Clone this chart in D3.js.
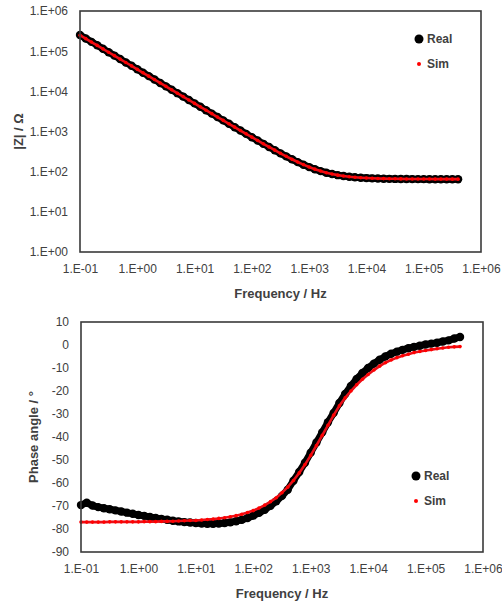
<!DOCTYPE html>
<html>
<head>
<meta charset="utf-8">
<script src="https://cdn.jsdelivr.net/npm/d3@7"></script>
<style>
  body { margin: 0; background: #fff; }
  svg text { font-family: 'Liberation Sans', Arial, sans-serif; fill: #404040; }
</style>
</head>
<body>
<svg id="chart" width="502" height="603"></svg>
<script>
// EIS data, 10 points per decade, 0.1 Hz .. ~400 kHz
const freq = [
  0.1, 0.1259, 0.1585, 0.1995, 0.2512, 0.3162, 0.3981, 0.5012, 0.631, 0.7943,
  1, 1.259, 1.585, 1.995, 2.512, 3.162, 3.981, 5.012, 6.31, 7.943,
  10, 12.59, 15.85, 19.95, 25.12, 31.62, 39.81, 50.12, 63.1, 79.43,
  100, 125.9, 158.5, 199.5, 251.2, 316.2, 398.1, 501.2, 631, 794.3,
  1000, 1259, 1585, 1995, 2512, 3162, 3981, 5012, 6310, 7943,
  10000, 12589, 15849, 19953, 25119, 31623, 39811, 50119, 63096, 79433,
  100000, 125893, 158489, 199526, 251189, 316228, 398107
];
const realZ = [
  252000, 207000, 170500, 139800, 115000, 94300, 77600, 63800, 52400, 43200,
  35400, 29100, 23950, 19700, 16180, 13300, 10940, 9000, 7400, 6090,
  5010, 4120, 3390, 2790, 2296, 1890, 1556, 1281, 1055, 872,
  720, 595, 493, 410, 341, 285, 240, 203, 173, 149,
  130, 115, 103.2, 94.1, 87.2, 81.8, 77.8, 74.8, 72.4, 70.6,
  69.2, 68.2, 67.4, 66.8, 66.3, 66.0, 65.7, 65.5, 65.3, 65.2,
  65.1, 65.0, 64.9, 64.8, 64.7, 64.6, 64.5
];
const simZ = [
  250000, 205600, 169000, 139000, 114300, 94000, 77300, 63500, 52200, 43000,
  35300, 29000, 23900, 19650, 16150, 13290, 10920, 8985, 7395, 6085,
  5005, 4115, 3388, 2788, 2295, 1890, 1557, 1283, 1057, 874,
  722.5, 597, 495, 412, 343, 287, 241, 204, 174, 150,
  130.5, 115.4, 103.5, 94.3, 87.3, 81.9, 77.9, 74.9, 72.6, 70.8,
  69.5, 68.5, 67.8, 67.2, 66.7, 66.4, 66.1, 65.9, 65.7, 65.6,
  65.5, 65.4, 65.35, 65.3, 65.25, 65.2, 65.15
];
const realPhase = [
  -69.6, -68.6, -69.8, -70.5, -71.0, -71.4, -71.9, -72.4, -72.9, -73.4,
  -73.9, -74.3, -74.8, -75.2, -75.6, -76.0, -76.4, -76.7, -77.0, -77.2,
  -77.4, -77.6, -77.7, -77.7, -77.6, -77.4, -77.1, -76.6, -76.0, -75.2,
  -74.2, -73.0, -71.6, -69.9, -67.9, -65.6, -62.9, -59.0, -55.2, -51.2,
  -46.8, -42.4, -38.0, -33.6, -29.5, -25.2, -21.3, -17.8, -14.8, -12.2,
  -10.0, -8.1, -6.4, -5.0, -3.8, -2.9, -2.1, -1.4, -0.8, -0.3,
  0.2, 0.6, 1.0, 1.5, 2.0, 2.8, 3.5
];
const simPhase = [
  -77.0, -77.0, -77.0, -77.0, -77.0, -76.9, -76.9, -76.9, -76.9, -76.9,
  -76.9, -76.8, -76.8, -76.8, -76.7, -76.7, -76.6, -76.5, -76.4, -76.3,
  -76.3, -76.1, -75.9, -75.7, -75.4, -75.1, -74.7, -74.2, -73.6, -72.8,
  -72.0, -70.9, -69.6, -68.1, -66.4, -64.2, -61.8, -58.9, -55.6, -52.0,
  -48.0, -43.7, -39.3, -34.9, -30.5, -26.4, -23.0, -20.0, -17.3, -14.9,
  -12.8, -10.9, -9.2, -7.7, -6.5, -5.5, -4.7, -4.0, -3.3, -2.8,
  -2.4, -2.0, -1.6, -1.3, -1.0, -0.8, -0.7
];
const freqTicks = [0.1, 1, 10, 100, 1e3, 1e4, 1e5, 1e6];
const zTicks = [1, 10, 100, 1e3, 1e4, 1e5, 1e6];
const phaseTicks = [-90, -80, -70, -60, -50, -40, -30, -20, -10, 0, 10];
const seriesNames = ['Real', 'Sim'];

const svg = d3.select('#chart');

// Excel style label: 1.E+03
function sci(d) {
  const e = Math.round(Math.log10(d));
  return '1.E' + (e < 0 ? '-' : '+') + String(Math.abs(e)).padStart(2, '0');
}

function drawPanel(opt) {
  const x = d3.scaleLog().domain([0.1, 1e6]).range([opt.left, opt.right]);
  const y = opt.y;
  const g = svg.append('g');

  g.append('g')
      .attr('transform', 'translate(0,' + opt.bottom + ')')
      .call(d3.axisBottom(x).tickValues(freqTicks).tickFormat(sci).tickSize(0).tickPadding(12))
      .call((a) => a.select('.domain').remove())
      .selectAll('text')
      .style('font-size', '12px');

  g.append('g')
      .attr('transform', 'translate(' + opt.left + ',0)')
      .call(d3.axisLeft(y).tickValues(opt.ticks).tickFormat(opt.format).tickSize(0).tickPadding(12))
      .call((a) => a.select('.domain').remove())
      .selectAll('text')
      .style('font-size', '12px');

  g.selectAll('.tick text').attr('fill', '#404040');

  const pts = (vals) => freq.map((f, i) => [x(f), y(vals[i])]);
  const line = d3.line();

  // Real: big black markers
  g.append('path')
      .attr('d', line(pts(opt.real)))
      .attr('fill', 'none')
      .attr('stroke', '#000')
      .attr('stroke-width', 7)
      .attr('stroke-linejoin', 'round');
  g.append('g').selectAll('circle')
      .data(pts(opt.real))
      .enter()
      .append('circle')
      .attr('cx', (d) => d[0])
      .attr('cy', (d) => d[1])
      .attr('r', 4.2)
      .attr('fill', '#000');

  // Sim: small red markers
  g.append('path')
      .attr('d', line(pts(opt.sim)))
      .attr('fill', 'none')
      .attr('stroke', '#e8101a')
      .attr('stroke-width', 2.6);
  g.append('g').selectAll('circle')
      .data(pts(opt.sim))
      .enter()
      .append('circle')
      .attr('cx', (d) => d[0])
      .attr('cy', (d) => d[1])
      .attr('r', 1.8)
      .attr('fill', '#ff0000');

  g.append('rect')
      .attr('x', opt.left)
      .attr('y', opt.top)
      .attr('width', opt.right - opt.left)
      .attr('height', opt.bottom - opt.top)
      .attr('fill', 'none')
      .attr('stroke', '#3a3a3a')
      .attr('stroke-width', 1.6);

  g.append('text')
      .attr('x', (opt.left + opt.right) / 2)
      .attr('y', opt.bottom + 41)
      .attr('dy', '0.35em')
      .attr('text-anchor', 'middle')
      .style('font-size', '13px')
      .style('font-weight', 'bold')
      .text('Frequency / Hz');

  g.append('text')
      .attr('transform', 'translate(' + opt.yTitleX + ',' + (opt.top + opt.bottom) / 2 + ') rotate(-90)')
      .attr('dy', '0.35em')
      .attr('text-anchor', 'middle')
      .style('font-size', '13px')
      .style('font-weight', 'bold')
      .text(opt.yTitle);

  // legend
  const lg = g.append('g').attr('transform', 'translate(' + opt.legend[0] + ',' + opt.legend[1] + ')');
  seriesNames.forEach((name, i) => {
    lg.append('circle')
        .attr('cx', 0)
        .attr('cy', i * 25)
        .attr('r', i === 0 ? 4.5 : 2)
        .attr('fill', i === 0 ? '#000' : '#ff0000');
    lg.append('text')
        .attr('x', 8)
        .attr('y', i * 25)
        .attr('dy', '0.35em')
        .style('font-size', '12px')
        .style('font-weight', 'bold')
        .text(name);
  });
}

drawPanel({
  left: 80, right: 481, top: 11, bottom: 252,
  y: d3.scaleLog().domain([1, 1e6]).range([252, 11]),
  ticks: zTicks, format: sci,
  real: realZ, sim: simZ,
  yTitle: '|Z| / Ω', yTitleX: 18,
  legend: [419, 39]
});

drawPanel({
  left: 81, right: 483, top: 322, bottom: 552,
  y: d3.scaleLinear().domain([-90, 10]).range([552, 322]),
  ticks: phaseTicks, format: (d) => d,
  real: realPhase, sim: simPhase,
  yTitle: 'Phase angle / °', yTitleX: 33,
  legend: [416, 476]
});
</script>
</body>
</html>
